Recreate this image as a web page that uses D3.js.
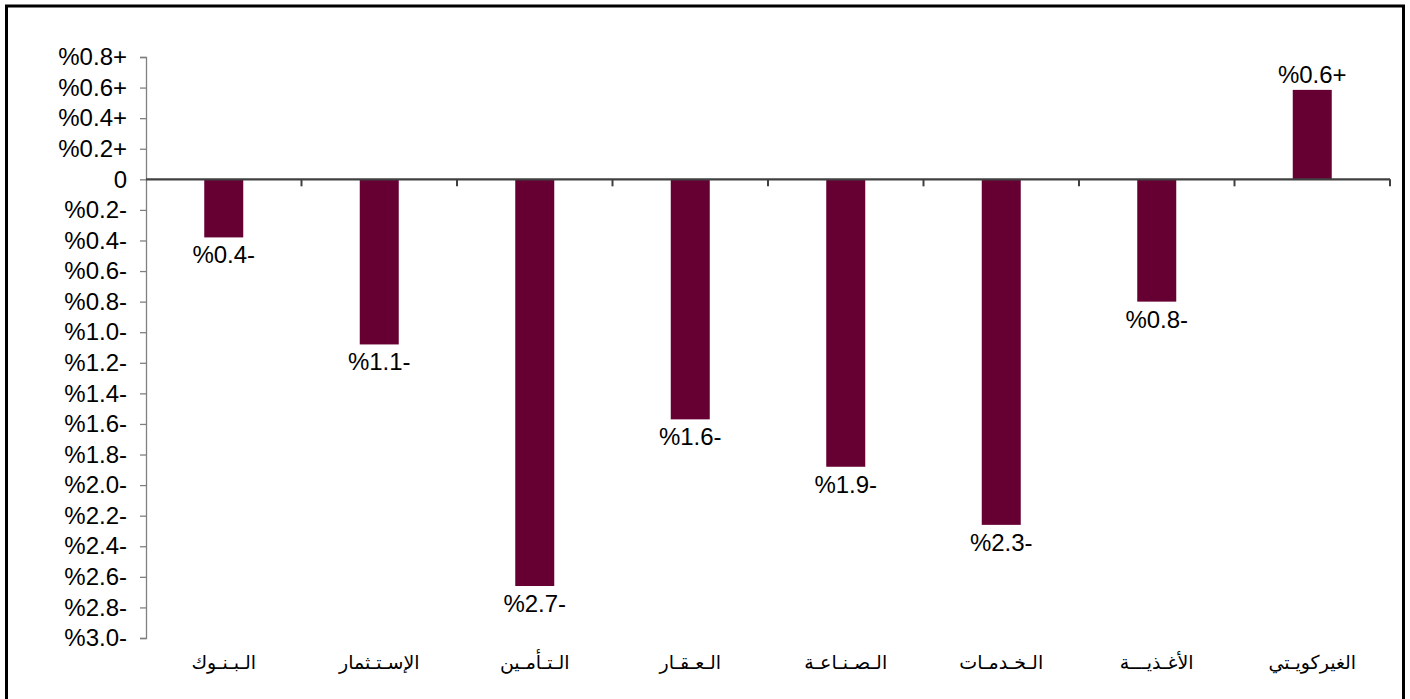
<!DOCTYPE html>
<html>
<head>
  <meta charset="utf-8">
  <script src="https://cdn.jsdelivr.net/npm/d3@7/dist/d3.min.js"></script>
  <style>
    body { margin: 0; background: #fff; }
    text { font-family: "Liberation Sans", Arial, "DejaVu Sans", sans-serif; fill: #000; }
  </style>
</head>
<body>
  <script>
    var width = 1410, height = 699;

    // sectors, right-to-left in the picture is read left-to-right here
    var categories = ["الـبـنـوك", "الإسـتـثمار", "الـتـأمـين", "الـعـقـار", "الـصـنـاعـة", "الـخـدمـات", "الأغـذيـــة", "الغيركويـتي"];
    var values = [-0.38, -1.08, -2.66, -1.57, -1.88, -2.26, -0.80, 0.585];
    var valueLabels = ["%0.4-", "%1.1-", "%2.7-", "%1.6-", "%1.9-", "%2.3-", "%0.8-", "%0.6+"];
    var yTicks = [0.8, 0.6, 0.4, 0.2, 0, -0.2, -0.4, -0.6, -0.8, -1.0, -1.2, -1.4, -1.6, -1.8, -2.0, -2.2, -2.4, -2.6, -2.8, -3.0];

    var svg = d3.select("body")
      .append("svg")
      .attr("width", width)
      .attr("height", height);

    // frame
    svg.append("path")
      .attr("d", "M6.5,699 V6 H1403.5 V699")
      .attr("fill", "none")
      .attr("stroke", "#000")
      .attr("stroke-width", 3);

    var x = d3.scaleBand()
      .domain(categories)
      .range([146, 1390])
      .paddingInner(0)
      .paddingOuter(0);

    var y = d3.scaleLinear()
      .domain([-3.0, 0.8])
      .range([638, 57]);

    var tickFmt = function (d) {
      if (d === 0) return "0";
      return "%" + Math.abs(d).toFixed(1) + (d > 0 ? "+" : "-");
    };

    // y axis
    var yAxis = svg.append("g")
      .attr("transform", "translate(146,0)")
      .call(d3.axisLeft(y).tickValues(yTicks).tickFormat(tickFmt).tickSizeOuter(0).tickSize(6).tickPadding(13));
    yAxis.select(".domain").attr("stroke", "#808080").attr("stroke-width", 1.3);
    yAxis.selectAll(".tick line").attr("stroke", "#808080").attr("stroke-width", 1.3);
    yAxis.selectAll(".tick text")
      .style("font-size", "24px")
      .style("font-family", "'Liberation Sans', Arial, sans-serif")
      .attr("fill", "#000");

    // bars
    var bw = 39;
    svg.append("g")
      .selectAll("rect")
      .data(values)
      .enter().append("rect")
      .attr("x", (d, i) => x(categories[i]) + x.bandwidth() / 2 - bw / 2)
      .attr("y", d => y(Math.max(0, d)))
      .attr("width", bw)
      .attr("height", d => Math.abs(y(d) - y(0)))
      .attr("fill", "#660033");

    // zero axis with ticks at band edges
    var edges = categories.map(c => x(c) + x.bandwidth());
    svg.append("line")
      .attr("x1", 146).attr("x2", 1390)
      .attr("y1", y(0)).attr("y2", y(0))
      .attr("stroke", "#404040")
      .attr("stroke-width", 2.2);
    svg.append("g")
      .selectAll("line")
      .data(edges)
      .enter().append("line")
      .attr("x1", d => d).attr("x2", d => d)
      .attr("y1", y(0)).attr("y2", y(0) + 7)
      .attr("stroke", "#404040")
      .attr("stroke-width", 2);

    // value labels
    svg.append("g")
      .selectAll("text")
      .data(values)
      .enter().append("text")
      .attr("x", (d, i) => x(categories[i]) + x.bandwidth() / 2)
      .attr("y", d => d < 0 ? y(d) + 26 : y(d) - 7)
      .attr("text-anchor", "middle")
      .style("font-size", "24px")
      .text((d, i) => valueLabels[i]);

    // category labels
    svg.append("g")
      .selectAll("text")
      .data(categories)
      .enter().append("text")
      .attr("x", d => x(d) + x.bandwidth() / 2)
      .attr("y", 669)
      .attr("text-anchor", "middle")
      .attr("direction", "rtl")
      .style("font-size", "19px")
      .style("font-family", "'DejaVu Sans', sans-serif")
      .text(d => d);
  </script>
</body>
</html>
